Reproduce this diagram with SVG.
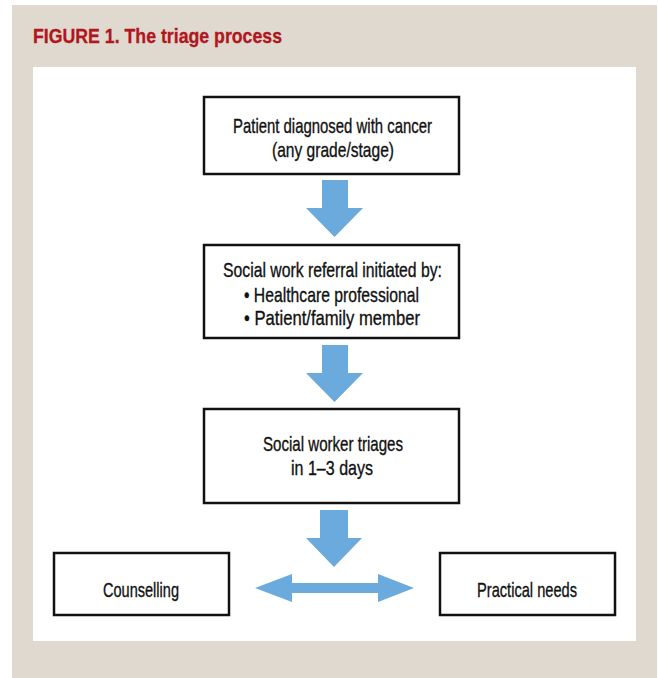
<svg xmlns="http://www.w3.org/2000/svg" width="658" height="678" viewBox="0 0 658 678">
<style>
.node rect{fill:#ffffff;stroke:#111111;stroke-width:2.5}
.t{font-family:"Liberation Sans",Arial,sans-serif;font-size:21px;fill:#111111;stroke:#111111;stroke-width:0.35}
.arrow{fill:#6aaadc}
.title{font-family:"Liberation Sans",Arial,sans-serif;font-size:21px;font-weight:bold;fill:#b0161e;stroke:#b0161e;stroke-width:0.3}
</style>
<rect x="0" y="0" width="658" height="678" fill="#ffffff"/>
<rect x="12" y="5" width="645" height="673" fill="#e0d9cf"/>
<rect x="33" y="67" width="603" height="574" fill="#ffffff"/>
<text class="title" x="33" y="43" textLength="249" lengthAdjust="spacingAndGlyphs">FIGURE 1. The triage process</text>

<g id="connectors">
<path class="arrow" d="M322,180 H348 V208 H363 L334.5,237 L306,208 H322 Z"/>
<path class="arrow" d="M322,345 H348 V373 H363 L334.5,402 L306,373 H322 Z"/>
<path class="arrow" d="M320,510 H348 V538 H362 L334,567 L306,538 H320 Z"/>
<path class="arrow" d="M255,588 L292,574 V583 H378 V574 L414,588 L378,602 V593 H292 V602 Z"/>
</g>

<g id="node-diagnosed" class="node">
<rect x="204" y="97" width="255" height="77"/>
<text class="t" x="233" y="133" textLength="199" lengthAdjust="spacingAndGlyphs">Patient diagnosed with cancer</text>
<text class="t" x="272" y="157" textLength="122" lengthAdjust="spacingAndGlyphs">(any grade/stage)</text>
</g>

<g id="node-referral" class="node">
<rect x="204" y="245" width="255" height="93"/>
<text class="t" x="223" y="277" textLength="219" lengthAdjust="spacingAndGlyphs">Social work referral initiated by:</text>
<text class="t" x="244" y="302" textLength="175" lengthAdjust="spacingAndGlyphs">• Healthcare professional</text>
<text class="t" x="244" y="325" textLength="176" lengthAdjust="spacingAndGlyphs">• Patient/family member</text>
</g>

<g id="node-triage" class="node">
<rect x="204" y="409" width="255" height="94"/>
<text class="t" x="263" y="451" textLength="140" lengthAdjust="spacingAndGlyphs">Social worker triages</text>
<text class="t" x="291" y="475" textLength="82" lengthAdjust="spacingAndGlyphs">in 1–3 days</text>
</g>

<g id="node-counselling" class="node">
<rect x="54" y="553" width="175" height="62"/>
<text class="t" x="103" y="597" textLength="76" lengthAdjust="spacingAndGlyphs">Counselling</text>
</g>

<g id="node-practical" class="node">
<rect x="440" y="553" width="175" height="62"/>
<text class="t" x="477" y="597" textLength="100" lengthAdjust="spacingAndGlyphs">Practical needs</text>
</g>
</svg>
